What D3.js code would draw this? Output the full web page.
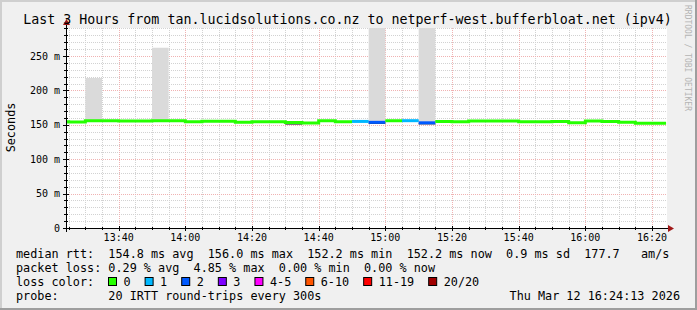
<!DOCTYPE html>
<html>
<head>
<meta charset="utf-8">
<script src="https://cdn.jsdelivr.net/npm/d3@7"></script>
<style>
  body { margin: 0; background: #f0f0f0; }
  svg { display: block; font-family: "DejaVu Sans Mono", monospace; }
  text { white-space: pre; }
</style>
</head>
<body>
<svg id="chart" width="697" height="310"></svg>
<script>
// 5-minute bins (start time of each bin)
const binTimes = ["13:20", "13:25", "13:30", "13:35", "13:40", "13:45", "13:50", "13:55",
  "14:00", "14:05", "14:10", "14:15", "14:20", "14:25", "14:30", "14:35", "14:40", "14:45",
  "14:50", "14:55", "15:00", "15:05", "15:10", "15:15", "15:20", "15:25", "15:30", "15:35",
  "15:40", "15:45", "15:50", "15:55", "16:00", "16:05", "16:10", "16:15", "16:20"];
// median rtt in ms
const medianMs = [154.5, 154.2, 155.8, 155.9, 155.7, 155.6, 155.8, 156.0,
  154.3, 155.0, 155.2, 153.8, 154.4, 154.6, 153.5, 152.6, 155.9, 154.4,
  154.9, 153.6, 155.9, 156.0, 152.9, 154.9, 154.3, 155.6, 155.6, 155.5,
  154.5, 154.3, 154.9, 153.0, 155.6, 154.7, 153.8, 152.4, 152.2];
// slowest ping of each bin (top of the smoke)
const smokeHighMs = [155.5, 155.2, 218, 157.0, 156.8, 156.6, 262, 157.0,
  155.3, 156.0, 156.2, 154.8, 155.4, 155.6, 154.5, 153.6, 156.9, 155.4,
  155.9, 320, 156.9, 157.0, 320, 155.9, 155.3, 156.6, 156.6, 156.5,
  155.5, 155.3, 155.9, 154.0, 156.6, 155.7, 154.8, 153.4, 153.2];
// fastest ping of each bin (bottom of the smoke)
const smokeLowMs = [153.8, 153.5, 155.0, 155.2, 155.0, 154.9, 155.0, 155.3,
  153.6, 154.3, 154.5, 153.1, 153.7, 153.9, 150.2, 151.9, 155.2, 153.7,
  154.2, 151.2, 155.2, 155.3, 150.5, 154.2, 153.6, 154.9, 154.9, 154.8,
  153.8, 153.6, 154.2, 152.3, 154.9, 154.0, 153.1, 151.7, 151.5];
// lost pings per bin
const lossCount = [0, 0, 0, 0, 0, 0, 0, 0,
  0, 0, 0, 0, 0, 0, 0, 0, 0, 0,
  1, 2, 0, 1, 2, 0, 0, 0, 0, 0,
  0, 0, 0, 0, 0, 0, 0, 0, 0];

const lossLabels = ["0", "1", "2", "3", "4-5", "6-10", "11-19", "20/20"];
const lossColors = ["#26ff00", "#00b8ff", "#0059ff", "#7e00ff", "#ff00ff", "#ff5500", "#ff0000", "#a00000"];
const lossBucket = [0, 1, 2, 3, 4, 4, 5, 5, 5, 5, 5, 6, 6, 6, 6, 6, 6, 6, 6, 6, 7];

const yTicks = [0, 50, 100, 150, 200, 250];
const rttStats = [154.8, 156.0, 152.2, 152.2];
const rttSd = 0.9;
const rttAmS = 177.7;
const lossStats = [0.29, 4.85, 0.00, 0.00];

(() => {
  const day = "2026-03-12T";
  const parseT = (s) => new Date(day + (s.length === 5 ? s + ":00" : s));

  const svg = d3.select("#chart");
  const W = 697, H = 310;
  const pLeft = 67, pRight = 667, pTop = 28, pBottom = 228;

  // background + shade frame
  svg.append("rect").attr("width", W).attr("height", H).attr("fill", "#f0f0f0");
  svg.append("path").attr("d", `M0,0H${W}V2H2V${H}H0Z`).attr("fill", "#cfcfcf");
  svg.append("path").attr("d", `M${W},${H}H0V${H - 2}H${W - 2}V0H${W}Z`).attr("fill", "#9e9e9e");

  const x = d3.scaleTime().domain([parseT("13:24:30"), parseT("16:24:30")]).range([pLeft, pRight]);
  const y = d3.scaleLinear().domain([0, 290.7]).range([pBottom, pTop]);

  svg.append("rect").attr("x", pLeft).attr("y", pTop).attr("width", pRight - pLeft).attr("height", pBottom - pTop)
    .attr("fill", "#ffffff");

  // grid
  const grid = svg.append("g").attr("shape-rendering", "crispEdges").attr("stroke-dasharray", "1,1");
  d3.range(10, 291, 10).filter((v) => v % 50 !== 0).forEach((v) => {
    grid.append("line").attr("x1", pLeft).attr("x2", pRight)
      .attr("y1", Math.round(y(v)) + 0.5).attr("y2", Math.round(y(v)) + 0.5).attr("stroke", "#d2d2d2");
  });
  const minorTimes = d3.timeMinute.every(5).range(...x.domain());
  minorTimes.filter((t) => t.getMinutes() % 20 !== 0).forEach((t) => {
    grid.append("line").attr("y1", pTop).attr("y2", pBottom)
      .attr("x1", Math.round(x(t)) + 0.5).attr("x2", Math.round(x(t)) + 0.5).attr("stroke", "#d2d2d2");
  });
  yTicks.filter((v) => v > 0).forEach((v) => {
    grid.append("line").attr("x1", pLeft).attr("x2", pRight)
      .attr("y1", Math.round(y(v)) + 0.5).attr("y2", Math.round(y(v)) + 0.5).attr("stroke", "#f0b2b2");
  });
  const majorTimes = d3.timeMinute.every(20).range(...x.domain());
  majorTimes.forEach((t) => {
    grid.append("line").attr("y1", pTop).attr("y2", pBottom)
      .attr("x1", Math.round(x(t)) + 0.5).attr("x2", Math.round(x(t)) + 0.5).attr("stroke", "#f0b2b2");
  });

  // smoke + median
  svg.append("clipPath").attr("id", "clip").append("rect")
    .attr("x", pLeft).attr("y", pTop).attr("width", pRight - pLeft).attr("height", pBottom - pTop);
  const pg = svg.append("g").attr("clip-path", "url(#clip)");
  const endT = parseT("16:24:13");
  const bins = binTimes.map((s, i) => {
    const t0 = parseT(s);
    const t1 = new Date(Math.min(+d3.timeMinute.offset(t0, 5), +endT));
    return { t0, t1, med: medianMs[i], hi: smokeHighMs[i], lo: smokeLowMs[i], loss: lossBucket[lossCount[i]] };
  });

  pg.selectAll("rect.smoke").data(bins).join("rect").attr("class", "smoke")
    .attr("x", (d) => x(d.t0)).attr("width", (d) => x(d.t1) - x(d.t0))
    .attr("y", (d) => y(d.hi)).attr("height", (d) => y(d.med) - y(d.hi))
    .attr("fill", "#dadada");
  pg.selectAll("rect.core").data(bins).join("rect").attr("class", "core")
    .attr("x", (d) => x(d.t0)).attr("width", (d) => x(d.t1) - x(d.t0))
    .attr("y", (d) => y(d.med)).attr("height", (d) => y(d.lo) - y(d.med))
    .attr("fill", "#3a3a3a");

  // runs of equal loss colour, drawn as step lines
  const runs = [];
  bins.forEach((b, i) => {
    if (i > 0 && bins[i - 1].loss === b.loss) runs[runs.length - 1].push(b);
    else runs.push([b]);
  });
  const stepLine = d3.line().x((d) => x(d.t)).y((d) => y(d.v)).curve(d3.curveStepAfter);
  runs.forEach((run) => {
    const pts = run.map((b) => ({ t: b.t0, v: b.med }));
    pts.push({ t: run[run.length - 1].t1, v: run[run.length - 1].med });
    pg.append("path").attr("d", stepLine(pts)).attr("fill", "none")
      .attr("stroke", lossColors[run[0].loss]).attr("stroke-width", 3);
  });

  // axes
  const ax = svg.append("g").attr("shape-rendering", "crispEdges");
  ax.append("line").attr("x1", 63).attr("x2", 669).attr("y1", pBottom + 0.5).attr("y2", pBottom + 0.5).attr("stroke", "#000");
  ax.append("line").attr("x1", pLeft - 0.5).attr("x2", pLeft - 0.5).attr("y1", pBottom + 4).attr("y2", 24).attr("stroke", "#000");
  minorTimes.forEach((t) => {
    const major = t.getMinutes() % 20 === 0;
    ax.append("line").attr("x1", Math.round(x(t)) + 0.5).attr("x2", Math.round(x(t)) + 0.5)
      .attr("y1", pBottom - (major ? 2 : 1)).attr("y2", pBottom + (major ? 3 : 2)).attr("stroke", "#000");
  });
  d3.range(10, 291, 10).forEach((v) => {
    const major = v % 50 === 0;
    ax.append("line").attr("y1", Math.round(y(v)) + 0.5).attr("y2", Math.round(y(v)) + 0.5)
      .attr("x1", pLeft - (major ? 4 : 3)).attr("x2", pLeft + (major ? 2 : 1)).attr("stroke", "#000");
  });
  svg.append("path").attr("d", `M668,${pBottom - 3}L674,${pBottom + 0.5}L668,${pBottom + 4}Z`).attr("fill", "#a01818");
  svg.append("path").attr("d", `M${pLeft - 4},25L${pLeft - 0.5},19L${pLeft + 3},25Z`).attr("fill", "#a01818");

  svg.selectAll("text.ylab").data(yTicks).join("text").attr("class", "ylab")
    .attr("x", 60).attr("y", (d) => y(d) + 3.5).attr("text-anchor", "end")
    .attr("font-size", 10).attr("fill", "#000")
    .text((d) => (d === 0 ? "0" : `${d} m`));
  svg.selectAll("text.xlab").data(majorTimes).join("text").attr("class", "xlab")
    .attr("x", (d) => x(d)).attr("y", 241).attr("text-anchor", "middle")
    .attr("font-size", 10).attr("fill", "#000")
    .text(d3.timeFormat("%H:%M"));

  svg.append("text").attr("transform", "translate(15,127.5) rotate(-90)")
    .attr("text-anchor", "middle").attr("font-size", 11.8).text("Seconds");

  svg.append("text").attr("x", 347.5).attr("y", 24).attr("text-anchor", "middle")
    .attr("font-size", 13.3).text("Last 3 Hours from tan.lucidsolutions.co.nz to netperf-west.bufferbloat.net (ipv4)");

  svg.append("text").attr("transform", "translate(685,5) rotate(90)")
    .attr("font-size", 8).attr("fill", "#b4b4b4").text("RRDTOOL / TOBI OETIKER");

  // legend
  const f1 = d3.format(".1f"), f2 = d3.format(".2f");
  const lg = svg.append("g").attr("font-size", 11.8).attr("fill", "#000");
  lg.append("text").attr("x", 16).attr("y", 258)
    .text(`median rtt:  ${f1(rttStats[0])} ms avg  ${f1(rttStats[1])} ms max  ${f1(rttStats[2])} ms min  ${f1(rttStats[3])} ms now  ${f1(rttSd)} ms sd  ${f1(rttAmS)}   am/s`);
  lg.append("text").attr("x", 16).attr("y", 272)
    .text(`packet loss: ${f2(lossStats[0])} % avg  ${f2(lossStats[1])} % max  ${f2(lossStats[2])} % min  ${f2(lossStats[3])} % now`);
  lg.append("text").attr("x", 16).attr("y", 286).text("loss color:");
  let bx = 108;
  lossLabels.forEach((lab, i) => {
    lg.append("rect").attr("x", bx + 0.5).attr("y", 277.5).attr("width", 8).attr("height", 8)
      .attr("fill", lossColors[i]).attr("stroke", "#000").attr("stroke-width", 1);
    const t = lg.append("text").attr("x", bx + 15.5).attr("y", 286).text(lab);
    bx = bx + 15.5 + t.node().getComputedTextLength() + 14;
  });
  lg.append("text").attr("x", 16).attr("y", 300).text("probe:       20 IRTT round-trips every 300s");
  lg.append("text").attr("x", 680).attr("y", 300).attr("text-anchor", "end").text("Thu Mar 12 16:24:13 2026");
})();
</script>
</body>
</html>
